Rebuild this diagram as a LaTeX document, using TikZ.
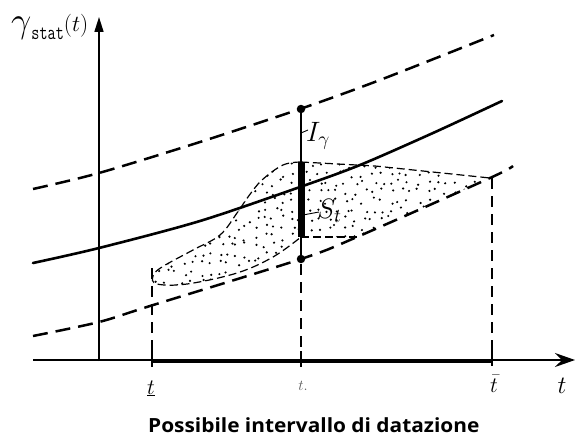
\RequirePackage{fix-cm}
\documentclass[tikz,border=0pt]{standalone}
\usepackage{fontspec}
\newfontfamily\capfont{Open Sans}
\usetikzlibrary{arrows.meta}
\begin{document}
\begin{tikzpicture}[x=1pt,y=-1pt,
  curve/.style={line width=2.6pt,line cap=round},
  dcurve/.style={line width=2.5pt,dash pattern=on 15pt off 8pt},
  regionline/.style={line width=1.2pt,dash pattern=on 8pt off 4pt},
  vdash/.style={line width=1.5pt,dash pattern=on 11pt off 7pt},
  lbl/.style={inner sep=0pt,anchor=base},
  dotmark/.style={fill=black,circle,inner sep=0pt,minimum size=8.5pt}]
\useasboundingbox (0,0) rectangle (575,436);
% stippled region
\begin{scope}
\clip plot[smooth,tension=0.6] coordinates {(301,162) (283,165) (262,180) (248,197) (237,213) (220,235) (193,250) (162,267) (153,276) (157,284) (187,284) (237,273) (273,257) (301,237)} -- (357,237) -- (490,178) -- (375,166) -- cycle;
\pgfmathsetseed{11}
\foreach \gx in {148,157,...,496}{
  \foreach \gy in {156,165,...,292}{
    \pgfmathsetmacro\rx{\gx+7*rnd-3.5}
    \pgfmathsetmacro\ry{\gy+7*rnd-3.5}
    \fill (\rx,\ry) circle (1.2pt);
  }
}
\end{scope}
% region boundary
\draw[regionline] plot[smooth,tension=0.6] coordinates {(301,162) (283,165) (262,180) (248,197) (237,213) (220,235) (193,250) (162,267) (153,276) (157,284) (187,284) (237,273) (273,257) (301,237)};
\draw[regionline] (301,162) -- (375,166) -- (490,178);
\draw[regionline] (301,237) -- (357,237);
% curves
\draw[dcurve] plot[smooth] coordinates {(33,189) (99,173) (200,142) (300,109) (380,80) (494,35)};
\draw[curve] plot[smooth] coordinates {(33,263) (99,248) (200,221) (300,187) (360,165) (433,133) (502,101)};
\draw[dcurve] plot[smooth] coordinates {(33,336) (99,322) (150,306) (301,259) (357,237) (490,178) (513,166)};
% axes
\coordinate (yo) at (99,361);
\coordinate (yt) at (99,17);
\coordinate (xo) at (33,360);
\coordinate (xt) at (575,360);
\draw[line width=1.6pt,-{Triangle[length=15pt,width=9pt]}] (yo) -- (yt);
\draw[line width=1.2pt,-{Stealth[length=20pt,width=14pt,inset=7pt]}] (xo) -- (xt);
% interval on axis
\coordinate (ta) at (152,361);
\coordinate (tb) at (492,361);
\draw[line width=4.8pt] (ta) -- (tb);
\draw[line width=1.5pt] (152,347) -- (152,367);
\draw[line width=1.5pt] (492,347) -- (492,366);
\draw[line width=1.5pt] (301,351) -- (301,367);
% vertical dashed lines
\draw[vdash] (152,268) -- (152,347);
\draw[vdash] (301,264) -- (301,351);
\draw[vdash] (492,178) -- (492,347);
% I_gamma line with dots and bar
\node[dotmark] (dtop) at (301,109) {};
\node[dotmark] (dbot) at (301,259) {};
\draw[line width=1.4pt] (dtop) -- (dbot);
\coordinate (bt) at (301,162);
\coordinate (bb) at (301,237);
\draw[line width=7pt] (bt) -- (bb);
% labels
\node[lbl,anchor=base west] (Ilab) at (306,141) {\fontsize{28}{28}\selectfont$I_\gamma$};
\draw[line width=0.9pt] (301,133) -- (308,130);
\node[lbl,anchor=base west] (Slab) at (317,218) {\fontsize{28}{28}\selectfont$S_t$};
\draw[line width=0.9pt] (303,215) -- (319,212);
\node[lbl,anchor=base west] (ylab) at (11,33) {\fontsize{36}{36}\selectfont$\gamma$\raisebox{-7pt}{\scalebox{0.75}[1]{\fontsize{21}{21}\selectfont\ttfamily stat}}\raisebox{1.5pt}{\fontsize{23}{23}\selectfont$(t)$}};
\node[lbl] (tlow) at (151,394) {\fontsize{22}{22}\selectfont$\underline{t}$};
\node[lbl,text=black!65] (tmid) at (303,390) {\fontsize{15}{15}\selectfont$t.$};
\node[lbl] (tup) at (494,392) {\fontsize{22}{22}\selectfont$\bar{t}$};
\node[lbl] (tax) at (562,393) {\fontsize{25}{25}\selectfont$t$};
\node[lbl,anchor=base west] (cap) at (148,432) {\scalebox{1.07}[1]{\capfont\bfseries\fontsize{19.5}{19.5}\selectfont Possibile intervallo di datazione}};
\end{tikzpicture}
\end{document}
